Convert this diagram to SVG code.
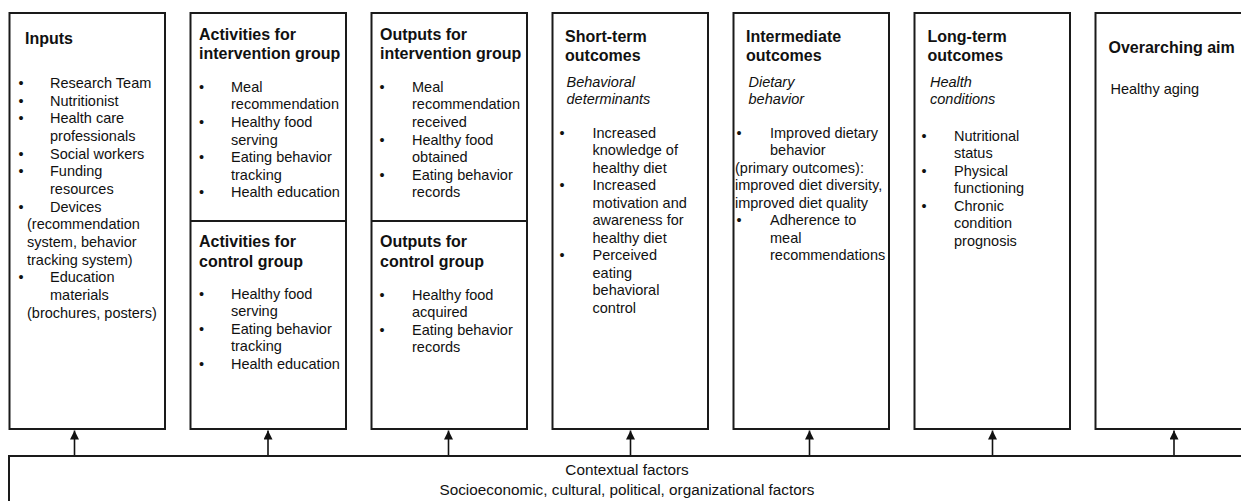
<svg xmlns="http://www.w3.org/2000/svg" width="1241" height="501" viewBox="0 0 1241 501">
<style>
.box{fill:#fff;stroke:#1a1a1a;stroke-width:2}
.div{stroke:#1a1a1a;stroke-width:2}
text{font-family:"Liberation Sans",Arial,sans-serif;fill:#111}
.t{font-size:16px;font-weight:bold}
.b{font-size:14.5px}
.i{font-size:14.5px;font-style:italic}
.c{font-size:15.3px;text-anchor:middle}
.conn{stroke:#111;stroke-width:1.6;fill:none}
</style>
<defs>
<marker id="ah" viewBox="0 0 10 10" refX="10" refY="5" markerWidth="9" markerHeight="9" markerUnits="userSpaceOnUse" orient="auto">
<path d="M0,0 L10,5 L0,10 Z" fill="#111"/>
</marker>
</defs>

<g id="inputs">
<rect class="box" x="9.5" y="13" width="155.5" height="416"/>
<text class="t" x="25" y="43.5">Inputs</text>
<g class="b">
<text class="b" x="18.5" y="88">•</text><text class="b" x="50" y="88">Research Team</text>
<text class="b" x="18.5" y="105.7">•</text><text class="b" x="50" y="105.7">Nutritionist</text>
<text class="b" x="18.5" y="123.4">•</text><text class="b" x="50" y="123.4">Health care</text>
<text class="b" x="50" y="141">professionals</text>
<text class="b" x="18.5" y="158.7">•</text><text class="b" x="50" y="158.7">Social workers</text>
<text class="b" x="18.5" y="176.4">•</text><text class="b" x="50" y="176.4">Funding</text>
<text class="b" x="50" y="194">resources</text>
<text class="b" x="18.5" y="211.7">•</text><text class="b" x="50" y="211.7">Devices</text>
<text class="b" x="27" y="229.4">(recommendation</text>
<text class="b" x="27" y="247">system, behavior</text>
<text class="b" x="27" y="264.7">tracking system)</text>
<text class="b" x="18.5" y="282.4">•</text><text class="b" x="50" y="282.4">Education</text>
<text class="b" x="50" y="300">materials</text>
<text class="b" x="27" y="317.7">(brochures, posters)</text>
</g>
</g>

<g id="activities">
<rect class="box" x="190.5" y="13" width="155.5" height="416"/>
<line class="div" x1="190.5" y1="221" x2="346" y2="221"/>
<text class="t" x="199" y="40">Activities for</text>
<text class="t" x="199" y="59.3">intervention group</text>
<text class="b" x="199" y="91.7">•</text><text class="b" x="231" y="91.7">Meal</text>
<text class="b" x="231" y="109.3">recommendation</text>
<text class="b" x="199" y="127">•</text><text class="b" x="231" y="127">Healthy food</text>
<text class="b" x="231" y="144.5">serving</text>
<text class="b" x="199" y="162">•</text><text class="b" x="231" y="162">Eating behavior</text>
<text class="b" x="231" y="179.7">tracking</text>
<text class="b" x="199" y="197.3">•</text><text class="b" x="231" y="197.3">Health education</text>
<text class="t" x="199" y="247">Activities for</text>
<text class="t" x="199" y="266.5">control group</text>
<text class="b" x="199" y="298.5">•</text><text class="b" x="231" y="298.5">Healthy food</text>
<text class="b" x="231" y="316">serving</text>
<text class="b" x="199" y="333.7">•</text><text class="b" x="231" y="333.7">Eating behavior</text>
<text class="b" x="231" y="351.3">tracking</text>
<text class="b" x="199" y="369">•</text><text class="b" x="231" y="369">Health education</text>
</g>

<g id="outputs">
<rect class="box" x="371.5" y="13" width="155.5" height="416"/>
<line class="div" x1="371.5" y1="221" x2="527" y2="221"/>
<text class="t" x="380" y="40">Outputs for</text>
<text class="t" x="380" y="59.3">intervention group</text>
<text class="b" x="379.5" y="91.7">•</text><text class="b" x="412" y="91.7">Meal</text>
<text class="b" x="412" y="109.3">recommendation</text>
<text class="b" x="412" y="127">received</text>
<text class="b" x="379.5" y="144.5">•</text><text class="b" x="412" y="144.5">Healthy food</text>
<text class="b" x="412" y="162">obtained</text>
<text class="b" x="379.5" y="179.7">•</text><text class="b" x="412" y="179.7">Eating behavior</text>
<text class="b" x="412" y="197.3">records</text>
<text class="t" x="380" y="247">Outputs for</text>
<text class="t" x="380" y="266.5">control group</text>
<text class="b" x="379.5" y="299.5">•</text><text class="b" x="412" y="299.5">Healthy food</text>
<text class="b" x="412" y="316.7">acquired</text>
<text class="b" x="379.5" y="334.5">•</text><text class="b" x="412" y="334.5">Eating behavior</text>
<text class="b" x="412" y="351.7">records</text>
</g>

<g id="short-term">
<rect class="box" x="552.5" y="13" width="155.5" height="416"/>
<text class="t" x="565" y="41.7">Short-term</text>
<text class="t" x="565" y="61.2">outcomes</text>
<text class="i" x="566.5" y="86.7">Behavioral</text>
<text class="i" x="566.5" y="104.3">determinants</text>
<text class="b" x="559.5" y="137.5">•</text><text class="b" x="592.5" y="137.5">Increased</text>
<text class="b" x="592.5" y="155">knowledge of</text>
<text class="b" x="592.5" y="172.5">healthy diet</text>
<text class="b" x="559.5" y="190">•</text><text class="b" x="592.5" y="190">Increased</text>
<text class="b" x="592.5" y="207.5">motivation and</text>
<text class="b" x="592.5" y="225">awareness for</text>
<text class="b" x="592.5" y="242.5">healthy diet</text>
<text class="b" x="559.5" y="260">•</text><text class="b" x="592.5" y="260">Perceived</text>
<text class="b" x="592.5" y="277.5">eating</text>
<text class="b" x="592.5" y="295">behavioral</text>
<text class="b" x="592.5" y="312.5">control</text>
</g>

<g id="intermediate">
<rect class="box" x="733.5" y="13" width="155.5" height="416"/>
<text class="t" x="746" y="41.7">Intermediate</text>
<text class="t" x="746" y="61.2">outcomes</text>
<text class="i" x="748.5" y="86.7">Dietary</text>
<text class="i" x="748.5" y="104.3">behavior</text>
<text class="b" x="736.5" y="137.5">•</text><text class="b" x="770" y="137.5">Improved dietary</text>
<text class="b" x="770" y="155">behavior</text>
<text class="b" x="735" y="172.5">(primary outcomes):</text>
<text class="b" x="735" y="190">improved diet diversity,</text>
<text class="b" x="735" y="207.5">improved diet quality</text>
<text class="b" x="736.5" y="225">•</text><text class="b" x="770" y="225">Adherence to</text>
<text class="b" x="770" y="242.5">meal</text>
<text class="b" x="770" y="260">recommendations</text>
</g>

<g id="long-term">
<rect class="box" x="914.5" y="13" width="155.5" height="416"/>
<text class="t" x="927.5" y="41.7">Long-term</text>
<text class="t" x="927.5" y="61.2">outcomes</text>
<text class="i" x="930" y="86.7">Health</text>
<text class="i" x="930" y="104.3">conditions</text>
<text class="b" x="921.5" y="140.7">•</text><text class="b" x="954" y="140.7">Nutritional</text>
<text class="b" x="954" y="158.2">status</text>
<text class="b" x="921.5" y="175.7">•</text><text class="b" x="954" y="175.7">Physical</text>
<text class="b" x="954" y="193.2">functioning</text>
<text class="b" x="921.5" y="210.7">•</text><text class="b" x="954" y="210.7">Chronic</text>
<text class="b" x="954" y="228.2">condition</text>
<text class="b" x="954" y="245.7">prognosis</text>
</g>

<g id="overarching-aim">
<rect class="box" x="1095.5" y="13" width="160" height="416"/>
<text class="t" x="1108.5" y="52.5">Overarching aim</text>
<text class="b" x="1110.5" y="94">Healthy aging</text>
</g>

<g id="contextual-factors">
<rect class="box" x="9" y="456" width="1250" height="60"/>
<text class="c" x="627" y="474.5">Contextual factors</text>
<text class="c" x="627" y="494.5">Socioeconomic, cultural, political, organizational factors</text>
</g>

<g id="connectors">
<line class="conn" x1="74.5" y1="455" x2="74.5" y2="430.5" marker-end="url(#ah)"/>
<line class="conn" x1="268" y1="455" x2="268" y2="430.5" marker-end="url(#ah)"/>
<line class="conn" x1="448.5" y1="455" x2="448.5" y2="430.5" marker-end="url(#ah)"/>
<line class="conn" x1="630.5" y1="455" x2="630.5" y2="430.5" marker-end="url(#ah)"/>
<line class="conn" x1="809.5" y1="455" x2="809.5" y2="430.5" marker-end="url(#ah)"/>
<line class="conn" x1="992.5" y1="455" x2="992.5" y2="430.5" marker-end="url(#ah)"/>
<line class="conn" x1="1174" y1="455" x2="1174" y2="430.5" marker-end="url(#ah)"/>
</g>
</svg>
